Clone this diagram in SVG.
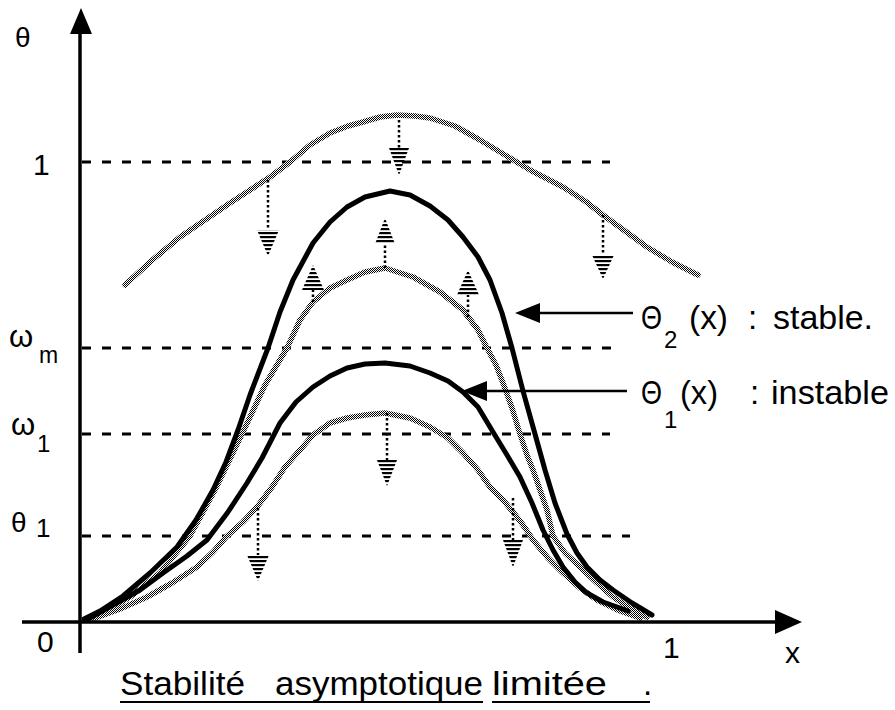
<svg xmlns="http://www.w3.org/2000/svg" width="895" height="710" viewBox="0 0 895 710">
<style>
.dash{stroke:#000;stroke-width:3;stroke-dasharray:9 11;fill:none}
.blk{stroke:#000;stroke-width:5;fill:none;stroke-linejoin:round;stroke-linecap:round}
.gry{stroke:url(#chk);stroke-width:5.5;fill:none;stroke-linejoin:round;stroke-linecap:round}
.stem{stroke:#000;stroke-width:2.5;stroke-dasharray:2.5 2.5;fill:none}
.head{fill:url(#stripes)}
.ax{stroke:#000;stroke-width:3.5;fill:none}
.lbl{stroke:#000;stroke-width:2.5;fill:none}
text{font-family:"Liberation Sans",Arial,sans-serif;fill:#000}
.big{font-size:33px}
.ttl{font-size:33px}
</style>
<defs>
<pattern id="chk" width="2" height="2" patternUnits="userSpaceOnUse"><rect width="2" height="2" fill="#fff"/><rect width="1" height="1" fill="#000"/><rect x="1" y="1" width="1" height="1" fill="#000"/></pattern>
<pattern id="stripes" width="4" height="4" patternUnits="userSpaceOnUse"><rect width="4" height="2.2" fill="#000"/></pattern>
</defs>
<rect width="895" height="710" fill="#fff"/>
<g id="levels">
<line class="dash" x1="82" y1="162" x2="610" y2="162"/>
<line class="dash" x1="82" y1="348" x2="615" y2="348"/>
<line class="dash" x1="82" y1="434" x2="610" y2="434"/>
<line class="dash" x1="82" y1="536" x2="630" y2="536"/>
</g>
<g id="curves">
<polyline id="g0" class="gry" points="125,285 150,262 180,237 205,220 230,203 250,190 270,177 290,162 310,145 330,133 348,126 363,122 380,117 397,115 415,116 430,118 455,126 480,140 505,155 530,170 563,187 585,201 603,215 625,231 647,247 672,262 698,275"/>
<polyline id="g2" class="gry" points="86,620 105,612 130,597 160,573 190,536 215,490 242,434 265,385 287,348 300,320 313,302 330,288 347,280 365,272 385,268 413,277 440,292 463,310 478,330 487,348 496,365 503,383 512,408 520,434 527,455 533,470 540,490 547,510 553,536 565,553 580,567 597,583 613,597 630,608 647,617"/>
<polyline id="g1" class="gry" points="90,620 120,609 147,597 172,583 197,567 213,552 227,536 243,522 257,507 272,487 285,467 300,450 313,435 330,423 347,418 365,415 385,413 410,418 430,427 448,438 463,453 478,470 490,487 503,500 513,512 523,525 533,540 548,558 563,573 580,588 597,600 620,611 640,618"/>
<polyline id="theta2" class="blk" points="84,619 100,611 123,596 150,573 177,547 196,520 213,490 226,462 238,430 250,395 268,348 280,312 293,280 313,243 330,222 347,207 365,197 390,191 410,195 430,206 448,220 463,237 478,257 490,280 502,313 512,348 523,391 535,434 545,470 555,503 567,534 577,553 587,567 600,580 613,590 632,603 652,615"/>
<polyline id="theta1" class="blk" points="88,619 113,605 140,590 163,573 187,556 207,540 228,512 247,483 262,458 280,423 296,402 313,387 330,376 347,368 365,364 385,363 410,366 430,373 448,381 463,392 478,407 493,432 507,455 520,477 532,503 543,530 553,550 563,567 575,582 587,593 603,602 620,608 628,611"/>
</g>
<g id="flows">
<line class="stem" x1="399" y1="120" x2="399" y2="148"/><polygon class="head" points="389,148 409,148 399,175"/>
<line class="stem" x1="268" y1="180" x2="268" y2="230"/><polygon class="head" points="257,230 279,230 268,256"/>
<line class="stem" x1="603" y1="215" x2="603" y2="255"/><polygon class="head" points="592,255 614,255 603,279"/>
<line class="stem" x1="313" y1="302" x2="313" y2="290"/><polygon class="head" points="302,290 324,290 313,265"/>
<line class="stem" x1="385" y1="268" x2="385" y2="244"/><polygon class="head" points="375,244 395,244 385,218"/>
<line class="stem" x1="468" y1="317" x2="468" y2="295"/><polygon class="head" points="457,295 479,295 468,270"/>
<line class="stem" x1="387" y1="413" x2="387" y2="460"/><polygon class="head" points="377,460 397,460 387,486"/>
<line class="stem" x1="258" y1="508" x2="258" y2="555"/><polygon class="head" points="247,555 269,555 258,581"/>
<line class="stem" x1="513" y1="498" x2="513" y2="540"/><polygon class="head" points="503,540 523,540 513,567"/>
</g>
<g id="pointers">
<line class="lbl" x1="633" y1="313" x2="538" y2="313"/><polygon points="515,313 540,303 540,323" fill="#000"/>
<line class="lbl" x1="627" y1="391" x2="485" y2="391"/><polygon points="462,391 487,381 487,401" fill="#000"/>
</g>
<g id="axes">
<line class="ax" x1="80" y1="30" x2="80" y2="653"/>
<polygon points="81,8 70,34 92,34" fill="#000"/>
<line class="ax" x1="22" y1="622" x2="778" y2="622"/>
<polygon points="802,622 775,610 775,634" fill="#000"/>
</g>
<g id="labels">
<text x="15" y="47" font-size="28">θ</text>
<text x="33" y="175" font-size="30">1</text>
<text x="9" y="347" font-size="31">ω</text>
<text x="39" y="363" font-size="23">m</text>
<text x="11" y="435" font-size="31">ω</text>
<text x="37" y="452" font-size="24">1</text>
<text x="11" y="532" font-size="28">θ</text>
<text x="36" y="537" font-size="26">1</text>
<text x="37" y="652" font-size="30">0</text>
<text x="663" y="658" font-size="30">1</text>
<text x="785" y="663" font-size="30">x</text>
<text x="641" y="329" class="big" textLength="21" lengthAdjust="spacingAndGlyphs">Θ</text>
<text x="664" y="348" font-size="24">2</text>
<text x="689" y="329" class="big" textLength="39" lengthAdjust="spacingAndGlyphs">(x)</text>
<text x="748" y="329" class="big">:</text>
<text x="773" y="329" class="big" textLength="100" lengthAdjust="spacingAndGlyphs">stable.</text>
<text x="641" y="404" class="big" textLength="21" lengthAdjust="spacingAndGlyphs">Θ</text>
<text x="664" y="428" font-size="24">1</text>
<text x="680" y="404" class="big" textLength="38" lengthAdjust="spacingAndGlyphs">(x)</text>
<text x="750" y="404" class="big">:</text>
<text x="771" y="404" class="big" textLength="118" lengthAdjust="spacingAndGlyphs">instable</text>
<text x="120" y="695" class="ttl" textLength="125" lengthAdjust="spacingAndGlyphs">Stabilité</text>
<text x="275" y="695" class="ttl" textLength="208" lengthAdjust="spacingAndGlyphs">asymptotique</text>
<text x="492" y="695" class="ttl" textLength="115" lengthAdjust="spacingAndGlyphs">limitée</text>
<text x="643" y="695" class="ttl">.</text>
<line x1="120" y1="702" x2="483" y2="702" stroke="#000" stroke-width="2"/>
<line x1="492" y1="702" x2="650" y2="702" stroke="#000" stroke-width="2"/>
</g>
</svg>
